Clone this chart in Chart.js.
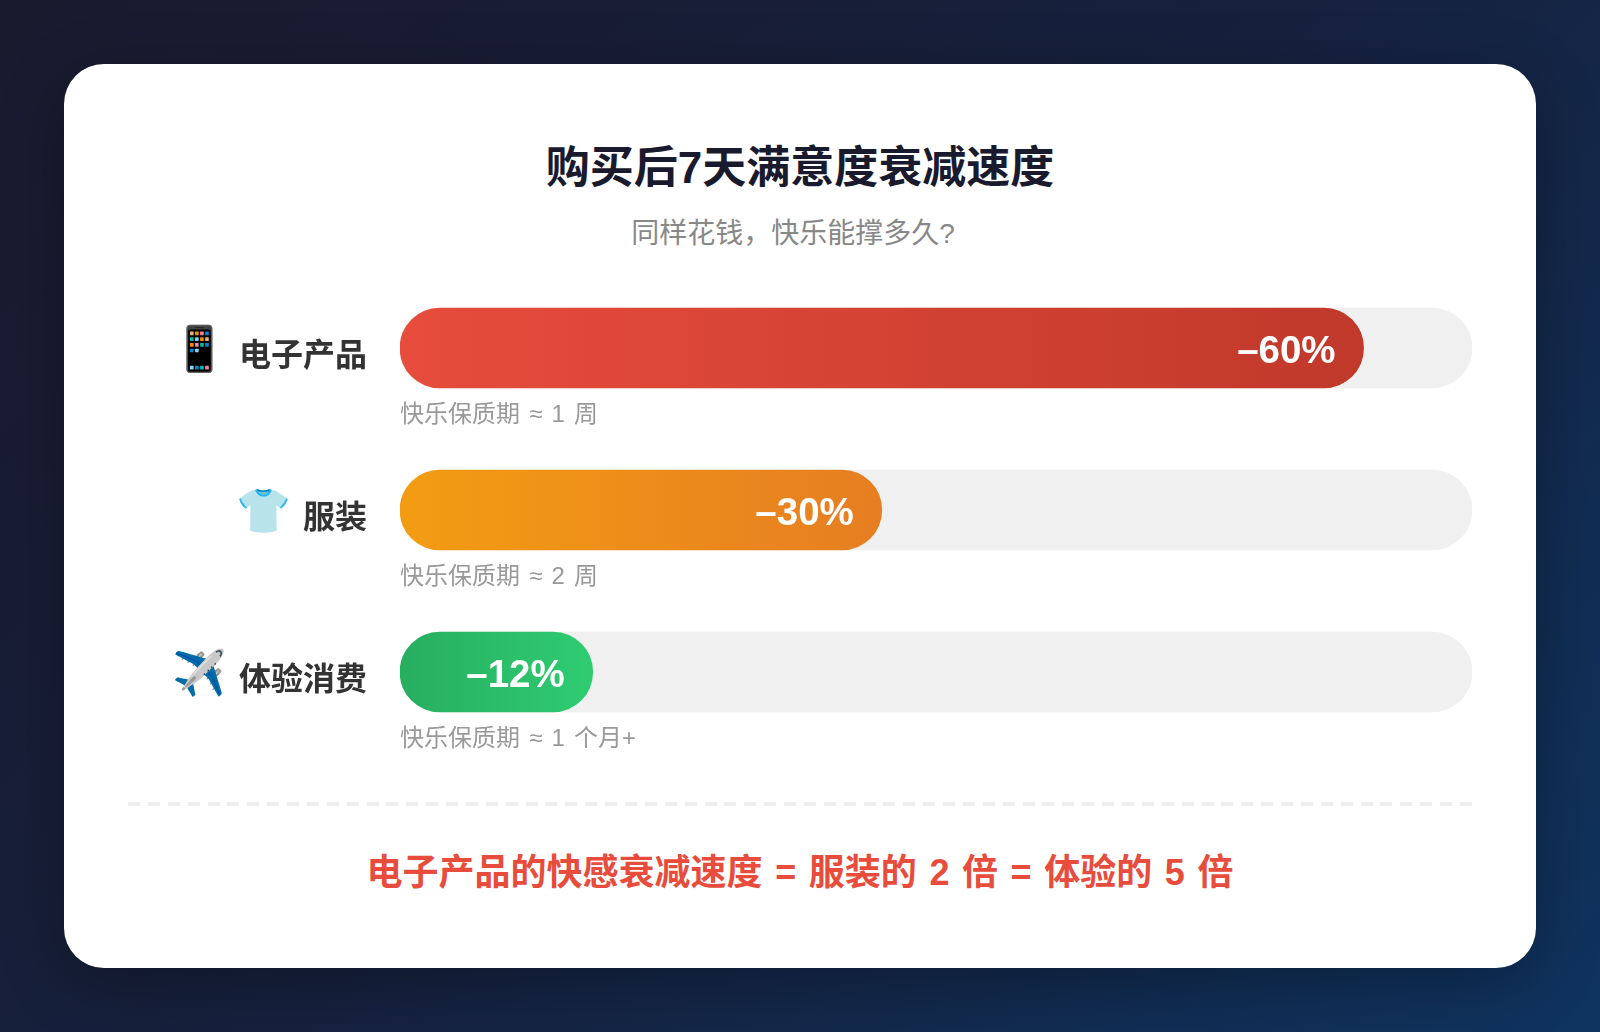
<!DOCTYPE html>
<html lang="zh">
<head>
<meta charset="utf-8">
<title>购买后7天满意度衰减速度</title>
<script src="https://cdn.jsdelivr.net/npm/chart.js@4"></script>
<style>
    html, body { margin: 0; width: 1600px; height: 1032px; overflow: hidden; }
    body {
        position: relative;
        background: linear-gradient(135deg, #1a1a2e 0%, #16213e 50%, #0f3460 100%);
        font-family: "Liberation Sans", "Noto Sans CJK SC", sans-serif;
    }
    #card {
        position: absolute; left: 64px; top: 64px; width: 1472px; height: 904px;
        background: #fff; border-radius: 40px;
        box-shadow: 0 16px 64px rgba(0, 0, 0, 0.3);
    }
    #chart { position: absolute; left: 0; top: 0; }
    .line { position: absolute; left: 0; width: 1600px; text-align: center; white-space: nowrap; }
    #title { top: 136px; font-size: 44px; line-height: 64px; font-weight: 700; color: #1a1a2e; }
    #subtitle { top: 214px; left: -7px; font-size: 28px; line-height: 40px; color: #888; }
    #divider {
        position: absolute; left: 128px; top: 802px; width: 1344px; height: 4px;
        background: repeating-linear-gradient(90deg, #eee 0 12px, transparent 12px 19.88px);
    }
    #summary { top: 848px; font-size: 36px; line-height: 50px; font-weight: 700; color: #e74c3c; word-spacing: 2.6px; }
</style>
</head>
<body>
<div id="card"></div>
<div class="line" id="title">购买后7天满意度衰减速度</div>
<div class="line" id="subtitle">同样花钱&#xFF0C;快乐能撑多久?</div>
<div id="divider"></div>
<div class="line" id="summary">电子产品的快感衰减速度 = 服装的 2 倍 = 体验的 5 倍</div>
<canvas id="chart" width="1600" height="1032"></canvas>
<script>
const categories = ['电子产品', '服装', '体验消费'];
const icons = ['📱', '👕', '✈️'];
const decayValues = [60, 30, 12];
const valueLabels = ['–60%', '–30%', '–12%'];
const shelfNotes = ['快乐保质期 ≈ 1 周', '快乐保质期 ≈ 2 周', '快乐保质期 ≈ 1 个月+'];
const gradientStarts = ['#e74c3c', '#f39c12', '#27ae60'];
const gradientEnds = ['#c0392b', '#e67e22', '#2ecc71'];
const axisMax = 66.75;
const trackValues = [axisMax, axisMax, axisMax];

const fontFamily = '"Liberation Sans", "Noto Sans CJK SC", sans-serif';

// labels, notes and percentages sit at fixed offsets from each bar
const rowText = {
    id: 'rowText',
    afterDatasetsDraw(chart) {
        const c = chart.ctx;
        const bars = chart.getDatasetMeta(1).data;
        const left = chart.scales.x.left;
        c.save();
        categories.forEach((name, i) => {
            const y = bars[i].y;

            c.textBaseline = 'middle';
            c.textAlign = 'right';
            c.fillStyle = '#fff';
            c.font = '700 38.5px ' + fontFamily;
            c.fillText(valueLabels[i], bars[i].x - 28, y + 4);

            c.fillStyle = '#333';
            c.font = '700 32px ' + fontFamily;
            c.fillText(name, left - 33, y + 9);
            const nameWidth = c.measureText(name).width;

            c.font = '44px "Noto Color Emoji", ' + fontFamily;
            c.fillStyle = '#000';
            c.textAlign = 'center';
            c.fillText(icons[i], left - 33 - nameWidth - 16 - 23, y + 3);

            c.textAlign = 'left';
            c.fillStyle = '#999';
            c.font = '24px ' + fontFamily;
            c.wordSpacing = '2.5px';
            c.fillText(shelfNotes[i], left, y + 67);
            c.wordSpacing = '0px';
        });
        c.restore();
    }
};

new Chart(document.getElementById('chart').getContext('2d'), {
    type: 'bar',
    data: {
        labels: categories,
        datasets: [
            {
                label: '轨道',
                data: trackValues,
                backgroundColor: '#f0f0f0',
                order: 2
            },
            {
                label: '满意度衰减',
                data: decayValues,
                backgroundColor(context) {
                    const i = context.dataIndex;
                    const { chartArea, ctx, scales } = context.chart;
                    if (!chartArea) return gradientStarts[i];
                    const g = ctx.createLinearGradient(scales.x.getPixelForValue(0), 0, scales.x.getPixelForValue(decayValues[i]), 0);
                    g.addColorStop(0, gradientStarts[i]);
                    g.addColorStop(1, gradientEnds[i]);
                    return g;
                },
                order: 1
            }
        ]
    },
    options: {
        indexAxis: 'y',
        responsive: false,
        animation: false,
        layout: { padding: { top: 267, bottom: 279, left: 0, right: 128 } },
        datasets: {
            bar: { grouped: false, barThickness: 80, borderRadius: 40, borderSkipped: false }
        },
        plugins: { legend: { display: false }, tooltip: { enabled: false } },
        scales: {
            x: { display: false, min: 0, max: axisMax },
            y: {
                grid: { display: false },
                border: { display: false },
                ticks: { display: false },
                afterFit(scale) { scale.width = 400; }
            }
        }
    },
    plugins: [rowText]
});
</script>
</body>
</html>
